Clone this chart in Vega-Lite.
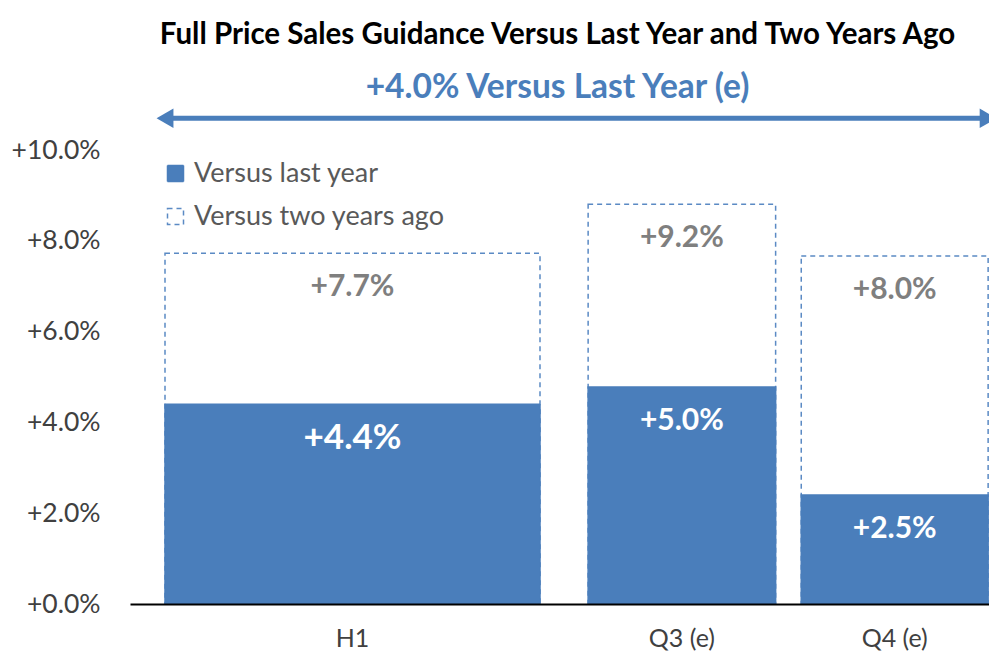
{
  "$schema": "https://vega.github.io/schema/vega-lite/v6.json",
  "width": 859,
  "height": 487,
  "autosize": "none",
  "padding": {"left": 130, "top": 117, "right": 0, "bottom": 49},
  "background": "white",
  "config": {"view": {"stroke": null}, "font": "Lato"},
  "title": {
    "text": "Full Price Sales Guidance Versus Last Year and Two Years Ago",
    "subtitle": "+4.0% Versus Last Year (e)",
    "anchor": "middle",
    "font": "Lato",
    "fontSize": 29.5,
    "fontWeight": "bold",
    "color": "#000000",
    "subtitleFont": "Lato",
    "subtitleFontSize": 33.5,
    "subtitleFontWeight": "bold",
    "subtitleColor": "#4a7ebb",
    "subtitlePadding": 22,
    "offset": 3,
    "dx": -2
  },
  "data": {
    "values": [
      {"period": "H1", "start": 0, "end": 6, "mid": 3, "series": "Versus two years ago", "value": 0.0773, "label": "+7.7%"},
      {"period": "Q3 (e)", "start": 6.77, "end": 9.77, "mid": 8.27, "series": "Versus two years ago", "value": 0.0881, "label": "+9.2%"},
      {"period": "Q4 (e)", "start": 10.18, "end": 13.17, "mid": 11.675, "series": "Versus two years ago", "value": 0.0767, "label": "+8.0%"},
      {"period": "H1", "start": 0, "end": 6, "mid": 3, "series": "Versus last year", "value": 0.044, "label": "+4.4%"},
      {"period": "Q3 (e)", "start": 6.77, "end": 9.77, "mid": 8.27, "series": "Versus last year", "value": 0.0478, "label": "+5.0%"},
      {"period": "Q4 (e)", "start": 10.18, "end": 13.17, "mid": 11.675, "series": "Versus last year", "value": 0.024, "label": "+2.5%"}
    ]
  },
  "layer": [
    {
      "mark": {"type": "bar", "strokeWidth": 1.5, "clip": true},
      "encoding": {
        "x": {
          "field": "start", "type": "quantitative",
          "scale": {"domain": [-0.56, 13.184], "nice": false, "zero": false},
          "axis": {"labels": false, "ticks": false, "grid": false, "title": null, "domainColor": "#000000", "domainWidth": 2, "zindex": 1}
        },
        "x2": {"field": "end"},
        "y": {
          "field": "value", "type": "quantitative", "stack": null,
          "scale": {"domain": [0, 0.1073], "nice": false, "zero": true},
          "axis": {"values": [0, 0.02, 0.04, 0.06, 0.08, 0.1], "format": "+.1%", "labelFont": "Lato", "labelFontSize": 26.5, "labelColor": "#404040", "labelPadding": 30, "domain": false, "ticks": false, "grid": false, "title": null}
        },
        "y2": {"datum": 0},
        "fill": {
          "field": "series", "type": "nominal",
          "scale": {"domain": ["Versus last year", "Versus two years ago"], "range": ["#4a7ebb", "#ffffff"]},
          "legend": {"title": null, "orient": "none", "legendX": 32, "legendY": 43, "labelFont": "Lato", "labelFontSize": 27, "labelColor": "#595959", "labelLimit": 400, "symbolType": "square", "symbolSize": 256, "symbolStrokeWidth": 1.5, "rowPadding": 15, "labelOffset": 5, "padding": 0}
        },
        "stroke": {
          "field": "series", "type": "nominal",
          "scale": {"domain": ["Versus last year", "Versus two years ago"], "range": ["#4a7ebb", "#5b8ac4"]},
          "legend": {"title": null, "orient": "none", "legendX": 32, "legendY": 43, "labelFont": "Lato", "labelFontSize": 27, "labelColor": "#595959", "labelLimit": 400, "symbolType": "square", "symbolSize": 256, "symbolStrokeWidth": 1.5, "rowPadding": 15, "labelOffset": 5, "padding": 0}
        },
        "strokeDash": {
          "field": "series", "type": "nominal",
          "scale": {"domain": ["Versus last year", "Versus two years ago"], "range": [[1, 0], [5, 4]]},
          "legend": {"title": null, "orient": "none", "legendX": 32, "legendY": 43, "labelFont": "Lato", "labelFontSize": 27, "labelColor": "#595959", "labelLimit": 400, "symbolType": "square", "symbolSize": 256, "symbolStrokeWidth": 1.5, "rowPadding": 15, "labelOffset": 5, "padding": 0}
        }
      }
    },
    {
      "mark": {"type": "text", "font": "Lato", "fontWeight": "bold", "baseline": "middle", "align": "center", "dy": 34},
      "encoding": {
        "x": {"field": "mid", "type": "quantitative"},
        "y": {"field": "value", "type": "quantitative"},
        "text": {"field": "label"},
        "color": {"condition": {"test": "datum.series === 'Versus last year'", "value": "#ffffff"}, "value": "#7f7f7f"},
        "size": {"condition": {"test": "datum.period === 'H1' && datum.series === 'Versus last year'", "value": 35}, "value": 30}
      }
    },
    {
      "transform": [{"filter": "datum.series === 'Versus last year'"}],
      "mark": {"type": "text", "font": "Lato", "fontSize": 25, "color": "#404040", "baseline": "middle", "align": "center", "dy": 35},
      "encoding": {
        "x": {"field": "mid", "type": "quantitative"},
        "y": {"datum": 0, "type": "quantitative"},
        "text": {"field": "period"}
      }
    },
    {
      "mark": {"type": "rule", "color": "#4a7ebb", "strokeWidth": 5},
      "encoding": {
        "x": {"aggregate": "min", "field": "start", "type": "quantitative"},
        "x2": {"aggregate": "max", "field": "end"},
        "y": {"datum": 0.107, "type": "quantitative"}
      }
    },
    {
      "mark": {"type": "point", "shape": "triangle-left", "filled": true, "size": 380, "color": "#4a7ebb", "opacity": 1},
      "encoding": {
        "x": {"aggregate": "min", "field": "start", "type": "quantitative"},
        "y": {"datum": 0.107, "type": "quantitative"}
      }
    },
    {
      "mark": {"type": "point", "shape": "triangle-right", "filled": true, "size": 380, "color": "#4a7ebb", "opacity": 1},
      "encoding": {
        "x": {"aggregate": "max", "field": "end", "type": "quantitative"},
        "y": {"datum": 0.107, "type": "quantitative"}
      }
    }
  ]
}
